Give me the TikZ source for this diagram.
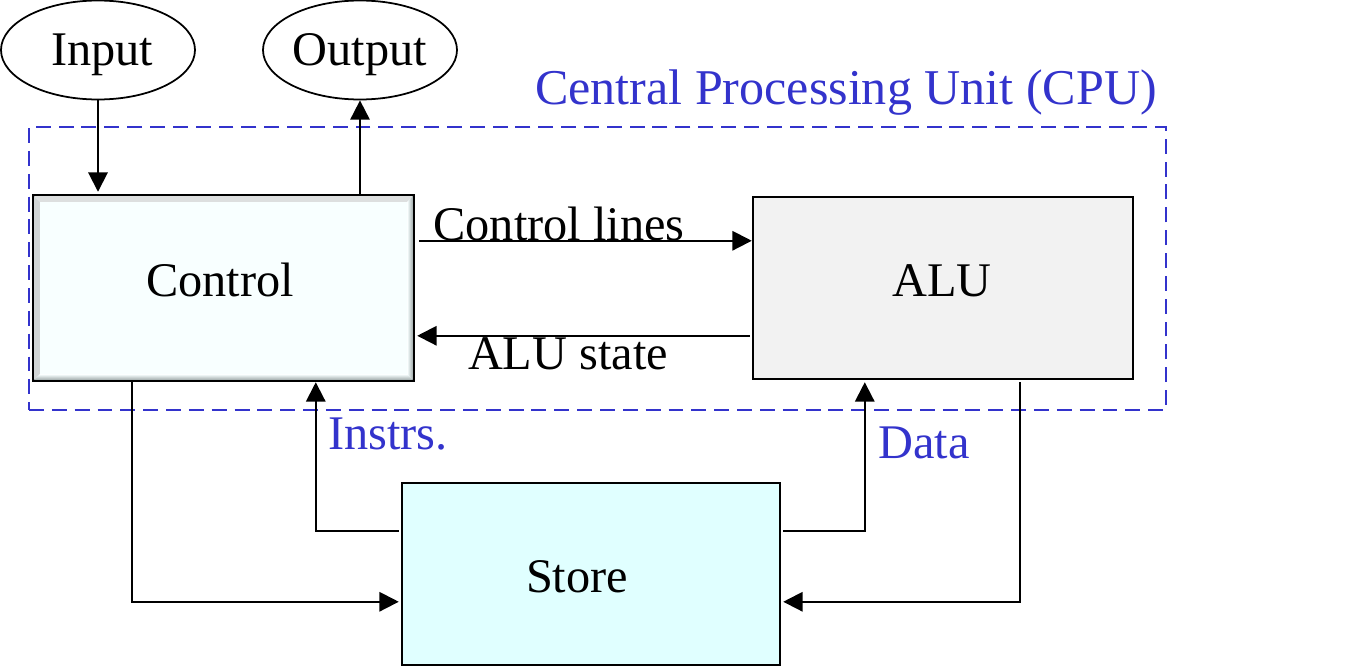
\documentclass[tikz,border=0pt]{standalone}
\usepackage{fontspec}
\setmainfont{Liberation Serif}
\usetikzlibrary{arrows.meta,shapes.geometric,calc}
\definecolor{cpublue}{RGB}{51,51,204}
\definecolor{ctrlfill}{RGB}{248,255,255}
\definecolor{alufill}{RGB}{242,242,242}
\definecolor{storefill}{RGB}{224,255,255}
\definecolor{bevel}{RGB}{140,150,150}
\tikzset{
  lbl/.style={font=\fontsize{27.5pt}{30pt}\selectfont, inner sep=0pt, anchor=base},
  bluelbl/.style={lbl, text=cpublue},
  boxstyle/.style={draw=black, line width=1.4pt, rectangle, inner sep=0pt},
  ell/.style={draw=black, line width=1pt, ellipse, inner sep=0pt, minimum width=194*0.02cm, minimum height=99*0.02cm},
  arr/.style={line width=1.1pt, -{Triangle[length=11pt,width=11pt]}},
}
\begin{document}
\begin{tikzpicture}[x=0.02cm,y=-0.02cm]
\useasboundingbox (0,0) rectangle (1355,666);
% CPU dashed frame
\node[draw=cpublue, line width=1.1pt, dash pattern=on 8.5pt off 4.5pt, rectangle, inner sep=0pt,
  minimum width=1137*0.02cm, minimum height=283*0.02cm] (cpu) at (597.5,268.5) {};
\node[bluelbl, font=\fontsize{28.5pt}{30pt}\selectfont] (cpulbl) at (846,104) {Central Processing Unit (CPU)};
% ellipses
\node[ell] (in) at (98,50) {};
\node[lbl] (intxt) at (102,65) {Input};
\node[ell] (out) at (360,50) {};
\node[lbl] (outtxt) at (360,65) {Output};
% Control box with bevel
\node[boxstyle, fill=ctrlfill, minimum width=379*0.02cm, minimum height=184*0.02cm] (ctrl) at (223.5,288) {};
\fill[bevel!30] (ctrl.north west) -- (ctrl.north east) -- ([shift={(-7,7)}]ctrl.north east) -- ([shift={(7,7)}]ctrl.north west) -- cycle;
\fill[bevel!40] (ctrl.north west) -- ([shift={(7,7)}]ctrl.north west) -- ([shift={(7,-7)}]ctrl.south west) -- (ctrl.south west) -- cycle;
\shade[left color=ctrlfill, right color=bevel] (ctrl.north east) -- (ctrl.south east) -- ([shift={(-7,-7)}]ctrl.south east) -- ([shift={(-7,7)}]ctrl.north east) -- cycle;
\shade[top color=ctrlfill, bottom color=bevel] (ctrl.south west) -- (ctrl.south east) -- ([shift={(-7,-7)}]ctrl.south east) -- ([shift={(7,-7)}]ctrl.south west) -- cycle;
\draw[line width=1.4pt] (ctrl.north west) rectangle (ctrl.south east);
\node[lbl] (ctrltxt) at (220,296) {Control};
% ALU
\node[boxstyle, fill=alufill, minimum width=380*0.02cm, minimum height=182*0.02cm] (alu) at (943,288) {};
\node[lbl] (alutxt) at (942,296) {ALU};
% Store
\node[boxstyle, fill=storefill, minimum width=378*0.02cm, minimum height=182*0.02cm] (store) at (591,574) {};
\node[lbl] (storetxt) at (577,592) {Store};
% Input / Output
\coordinate (ctop) at ([shift={(0,-3)}]ctrl.north);
\draw[arr] (in.south) -- (in.south |- ctop);
\draw[arr] (ctrl.north -| out.south) -- (out.south);
% Control lines
\coordinate (cl) at ([shift={(5,46)}]ctrl.north east);
\draw[arr] (cl) -- (cl -| alu.west);
\node[lbl] (cltxt) at (559,240) {Control lines};
% ALU state
\coordinate (as) at ([shift={(-2,140)}]alu.north west);
\coordinate (ce) at ([shift={(3,0)}]ctrl.east);
\draw[arr] (as) -- (as -| ce);
\node[lbl] (astxt) at (568,369) {ALU state};
% Control -> Store
\coordinate (c1) at ([shift={(99,0)}]ctrl.south west);
\coordinate (s1) at ([shift={(-2,120)}]store.north west);
\draw[arr] (c1) |- (s1);
% Store -> Control (Instrs.)
\coordinate (s2) at ([shift={(-2,49)}]store.north west);
\coordinate (c2) at ([shift={(283,1)}]ctrl.south west);
\draw[arr] (s2) -| (c2);
\node[bluelbl] (instrtxt) at (388,449) {Instrs.};
% Store -> ALU (Data)
\coordinate (s3) at ([shift={(2,49)}]store.north east);
\coordinate (a3) at ([shift={(113,2)}]alu.south west);
\draw[arr] (s3) -| (a3);
\node[bluelbl] (datatxt) at (924,458) {Data};
% ALU -> Store
\coordinate (a4) at ([shift={(268,2)}]alu.south west);
\coordinate (s4) at ([shift={(2,120)}]store.north east);
\draw[arr] (a4) |- (s4);
\end{tikzpicture}
\end{document}
